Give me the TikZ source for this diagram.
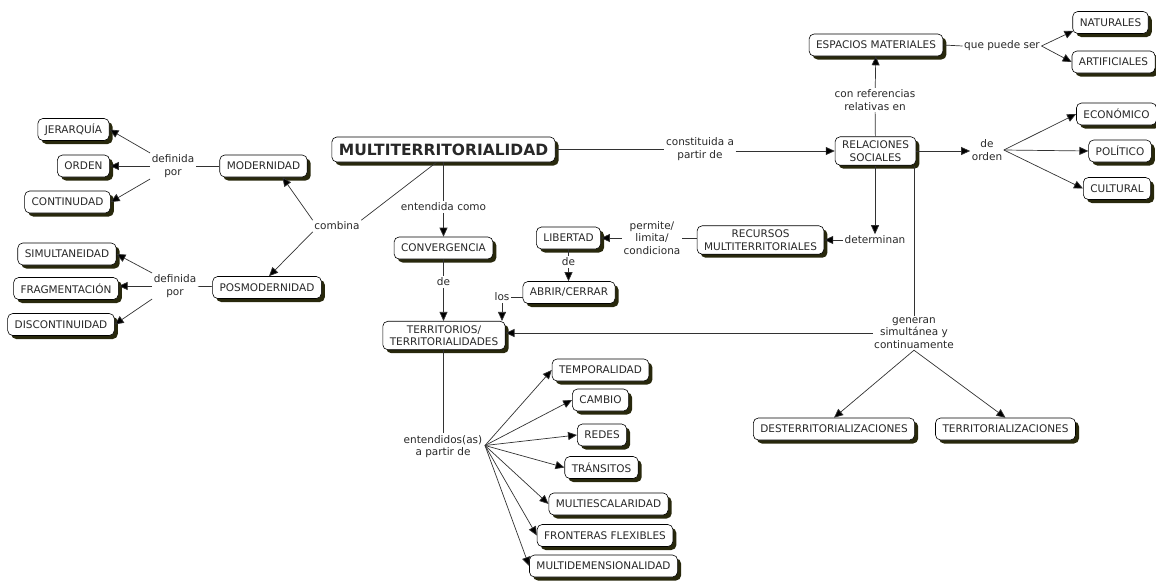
\documentclass[tikz,border=0pt]{standalone}
\usepackage{fontspec}
\setmainfont{DejaVu Sans}
\usetikzlibrary{arrows.meta,shadows,calc}
\definecolor{shadowc}{RGB}{40,40,12}
\definecolor{txt}{RGB}{40,40,40}
\definecolor{lnc}{RGB}{50,50,50}
\newcommand{\fsm}{\fontsize{10.5}{12.5}\selectfont}
\begin{document}
\begin{tikzpicture}[x=1pt,y=-1pt,
  concept/.style={draw=black, line width=0.6pt, fill=white, rounded corners=5pt, font=\fsm, text=txt, align=center, inner xsep=7pt, inner ysep=4pt, minimum height=22pt, drop shadow={shadow xshift=3.5pt, shadow yshift=-3.5pt, fill=shadowc, opacity=1}},
  lp/.style={font=\fsm, text=txt, align=center, inner sep=1.5pt},
  ln/.style={draw=lnc, line width=0.7pt},
  arr/.style={ln, -{Triangle[length=9pt,width=8pt,fill=black]}}]
\useasboundingbox (0,0) rectangle (1156,581);
% concepts
\node[concept] (jer) at (73.5,129.5) {JERARQUÍA};
\node[concept] (ord) at (83.5,166) {ORDEN};
\node[concept] (con) at (67.5,202) {CONTINUDAD};
\node[concept] (mod) at (263.5,166) {MODERNIDAD};
\node[concept] (sim) at (67,254) {SIMULTANEIDAD};
\node[concept] (fra) at (66,288.5) {FRAGMENTACIÓN};
\node[concept] (dis) at (61,324.5) {DISCONTINUIDAD};
\node[concept] (pos) at (267,287.5) {POSMODERNIDAD};
\node[concept, font=\fontsize{15.5}{18}\selectfont\bfseries, minimum height=25pt, inner xsep=7pt] (multi) at (443.5,149.5) {MULTITERRITORIALIDAD};
\node[concept] (conv) at (443.5,248) {CONVERGENCIA};
\node[concept] (terr) at (444,335.5) {TERRITORIOS/\\TERRITORIALIDADES};
\node[concept] (lib) at (568.5,238) {LIBERTAD};
\node[concept] (abr) at (569,292.5) {ABRIR/CERRAR};
\node[concept] (recu) at (760.5,240) {RECURSOS\\MULTITERRITORIALES};
\node[concept] (rel) at (875.5,151) {RELACIONES\\SOCIALES};
\node[concept] (esp) at (876,45) {ESPACIOS MATERIALES};
\node[concept] (nat) at (1110.5,22.5) {NATURALES};
\node[concept] (art) at (1113.5,62) {ARTIFICIALES};
\node[concept] (eco) at (1116.5,114) {ECONÓMICO};
\node[concept] (pol) at (1120,151) {POLÍTICO};
\node[concept] (cul) at (1117,188.5) {CULTURAL};
\node[concept] (dest) at (834,429) {DESTERRITORIALIZACIONES};
\node[concept] (terrz) at (1005.5,429) {TERRITORIALIZACIONES};
\node[concept] (temp) at (600.5,370) {TEMPORALIDAD};
\node[concept] (cam) at (600.5,400) {CAMBIO};
\node[concept] (red) at (602,435) {REDES};
\node[concept] (tra) at (601.5,467.5) {TRÁNSITOS};
\node[concept] (mesc) at (608.5,504) {MULTIESCALARIDAD};
\node[concept] (fro) at (605,535.5) {FRONTERAS FLEXIBLES};
\node[concept] (mdim) at (603.5,566) {MULTIDEMENSIONALIDAD};
% linking phrases
\node[lp] (def1) at (173,166) {definida\\por};
\node[lp] (def2) at (175,286) {definida\\por};
\node[lp] (comb) at (337,226) {combina};
\node[lp] (entc) at (443.5,207) {entendida como};
\node[lp] (de1) at (443.5,282) {de};
\node[lp] (cons) at (700,149) {constituida a\\partir de};
\node[lp] (conref) at (875,100) {con referencias\\relativas en};
\node[lp] (qps) at (1002,46) {que puede ser};
\node[lp] (deo) at (987,150) {de\\orden};
\node[lp] (det) at (875,240) {determinan};
\node[lp] (perm) at (652,238) {permite/\\limita/\\condiciona};
\node[lp] (de2) at (568.5,262) {de};
\node[lp] (los) at (502,297) {los};
\node[lp] (gen) at (914,333) {generan\\simultánea y\\continuamente};
\node[lp] (entd) at (443,446.5) {entendidos(as)\\a partir de};
% connectors
\draw[ln] (mod) -- (def1);
\draw[arr] (def1.north west) -- (jer.east);
\draw[arr] (def1.west) -- (def1.west -| ord.east);
\draw[arr] (def1.south west) -- (con.east);
\draw[ln] (pos) -- (def2);
\draw[arr] (def2.north west) -- (sim.east);
\draw[arr] (def2.west) -- (def2.west -| fra.east);
\draw[arr] (def2.south west) -- (dis.east);
\draw[ln] ($(multi.south)+(-7,0)$) -- (comb.north east);
\draw[arr] (comb.north west) -- ($(mod.south)+(19,0)$);
\draw[arr] (comb.south west) -- ($(pos.north)+(2,0)$);
\draw[ln] (multi.south -| entc) -- (entc);
\draw[arr] (entc) -- (conv);
\draw[ln] (conv) -- (de1);
\draw[arr] (de1) -- (de1 |- terr.north);
\draw[ln] (multi.east) -- (multi.east -| cons.west);
\draw[arr] (cons.east |- rel) -- (rel.west);
\draw[ln] (rel) -- (conref);
\draw[arr] (conref) -- (esp);
\draw[ln] (esp.east) -- (qps.west);
\draw[arr] (qps.east) -- ($(nat.south west)+(1,-3)$);
\draw[arr] (qps.east) -- (art.west);
\draw[arr] (rel.east) -- (rel.east -| deo.west);
\draw[arr] (deo.east) -- (eco.west);
\draw[arr] (deo.east) -- (pol.west);
\draw[arr] (deo.east) -- (cul.west);
\draw[arr] (rel.south -| det) -- (det.north);
\draw[arr] (det.west) -- (det.west -| recu.east);
\draw[ln] (perm.east) -- (perm.east -| recu.west);
\draw[arr] (perm.west) -- (perm.west -| lib.east);
\draw[ln] (lib) -- (de2);
\draw[arr] (de2) -- (de2 |- abr.north);
\draw[ln] (los.east) -- (los.east -| abr.west);
\draw[arr] (los.south) -- (los.south |- terr.north);
\draw[ln] (gen.north |- rel.south) -- (gen.north);
\draw[arr] (gen.west) -- (gen.west -| terr.east);
\draw[arr] (gen.south) -- (dest.north);
\draw[arr] (gen.south) -- (terrz.north);
\draw[ln] (terr.south -| entd) -- (entd);
\coordinate (fan) at ($(entd.east)+(1,-1)$);
\draw[arr] (fan) -- (temp.west);
\draw[arr] (fan) -- (cam.west);
\draw[arr] (fan) -- (red.west);
\draw[arr] (fan) -- (tra.west);
\draw[arr] (fan) -- (mesc.west);
\draw[arr] (fan) -- (fro.west);
\draw[arr] (fan) -- (mdim.west);
\end{tikzpicture}
\end{document}
